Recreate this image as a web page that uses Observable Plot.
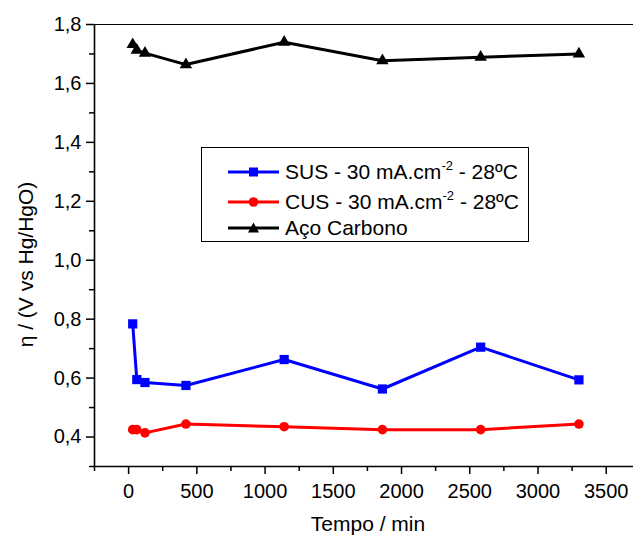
<!DOCTYPE html>
<html>
<head>
<meta charset="utf-8">
<script src="https://cdn.jsdelivr.net/npm/d3@7"></script>
<script src="https://cdn.jsdelivr.net/npm/@observablehq/plot@0.6"></script>
<style>
  html, body { margin: 0; padding: 0; background: white; }
  #wrap { position: relative; width: 633px; height: 535px; overflow: hidden; font-family: "Liberation Sans", Arial, sans-serif; }
  #legend { position: absolute; left: 201px; top: 147px; width: 328px; height: 95px; border: 1.3px solid black; background: white; box-sizing: border-box; }
  .row { position: absolute; left: 26px; height: 24px; display: flex; align-items: center; font-size: 21px; color: black; white-space: nowrap; }
  .row svg { margin-right: 6px; }
  .sup { font-size: 13px; position: relative; top: -9px; }
</style>
</head>
<body>
<div id="wrap"></div>
<script>
// Data
const tempo = [30, 60, 120, 420, 1140, 1860, 2580, 3300];
const sus   = [0.784, 0.595, 0.585, 0.575, 0.663, 0.563, 0.705, 0.594];
const cus   = [0.425, 0.425, 0.414, 0.444, 0.435, 0.425, 0.425, 0.444];
const aco   = [1.732, 1.713, 1.703, 1.664, 1.740, 1.677, 1.689, 1.700];

const seriesNames = ["SUS - 30 mA.cm", "CUS - 30 mA.cm", "Aço Carbono"];
const seriesColors = ["#0000ff", "#ff0000", "#000000"];
const seriesSymbols = ["square", "circle", "triangle"];

const xMajor = [0, 500, 1000, 1500, 2000, 2500, 3000, 3500];
const xMinor = [-250, 250, 750, 1250, 1750, 2250, 2750, 3250];
const yMajor = [0.4, 0.6, 0.8, 1.0, 1.2, 1.4, 1.6, 1.8];
const yMinor = [0.3, 0.5, 0.7, 0.9, 1.1, 1.3, 1.5, 1.7];

const xTitle = "Tempo / min";
const yTitle = "η / (V vs Hg/HgO)";

const fmtY = d => d.toFixed(1).replace(".", ",");
const fmtX = d => String(d);

const chart = Plot.plot({
  width: 633,
  height: 535,
  marginLeft: 94,
  marginRight: 0,
  marginTop: 24,
  marginBottom: 69,
  x: {domain: [-250, 3700]},
  y: {domain: [0.3, 1.8]},
  style: {fontFamily: "'Liberation Sans', Arial, sans-serif", background: "white", color: "black"},
  marks: [
    Plot.ruleY([1.8], {stroke: "black", strokeWidth: 1}),
    Plot.ruleX([-250], {stroke: "black", strokeWidth: 1.6}),
    Plot.ruleY([0.3], {stroke: "black", strokeWidth: 1.6}),
    Plot.axisX({ticks: xMinor, tickSize: 5, tickFormat: () => "", strokeWidth: 1.5, label: null}),
    Plot.axisX({ticks: xMajor, tickSize: 8, tickPadding: 9, fontSize: 20, tickFormat: fmtX, strokeWidth: 1.5, label: null}),
    Plot.axisY({ticks: yMinor, tickSize: 5, tickFormat: () => "", strokeWidth: 1.5, label: null}),
    Plot.axisY({ticks: yMajor, tickSize: 8, tickPadding: 5, fontSize: 20, tickFormat: fmtY, strokeWidth: 1.5, label: null}),
    Plot.line(tempo, {x: tempo, y: aco, stroke: seriesColors[2], strokeWidth: 3}),
    Plot.dot(tempo, {x: tempo, y: aco, fill: seriesColors[2], symbol: seriesSymbols[2], r: 4.6}),
    Plot.line(tempo, {x: tempo, y: sus, stroke: seriesColors[0], strokeWidth: 3}),
    Plot.dot(tempo, {x: tempo, y: sus, fill: seriesColors[0], symbol: seriesSymbols[0], r: 5.2}),
    Plot.line(tempo, {x: tempo, y: cus, stroke: seriesColors[1], strokeWidth: 3}),
    Plot.dot(tempo, {x: tempo, y: cus, fill: seriesColors[1], symbol: seriesSymbols[1], r: 4.8}),
    Plot.text([xTitle], {frameAnchor: "bottom", textAnchor: "middle", lineAnchor: "top", dy: 50, dx: 4, fontSize: 21}),
    Plot.text([yTitle], {frameAnchor: "left", textAnchor: "middle", lineAnchor: "middle", rotate: -90, dx: -68, dy: 19, fontSize: 21})
  ]
});

const wrap = document.getElementById("wrap");
wrap.appendChild(chart);

// Legend inside the plot area
const legend = document.createElement("div");
legend.id = "legend";
const rowCenters = [23.5, 54, 80];
const symbolPaths = {
  square: '<rect x="21" y="2.5" width="9" height="9"/>',
  circle: '<circle cx="25.5" cy="7" r="4.8"/>',
  triangle: '<path d="M25.5,1.5 L31,11.5 L20,11.5 Z"/>'
};
seriesNames.forEach((name, i) => {
  const row = document.createElement("div");
  row.className = "row";
  row.style.top = (rowCenters[i] - 12) + "px";
  const c = seriesColors[i];
  const sym = `<svg width="51" height="14" viewBox="0 0 51 14"><line x1="0" y1="7" x2="51" y2="7" stroke="${c}" stroke-width="3"/><g fill="${c}">${symbolPaths[seriesSymbols[i]]}</g></svg>`;
  const label = i < 2
    ? `<span>${name}<span class="sup">-2</span> - 28ºC</span>`
    : `<span>${name}</span>`;
  row.innerHTML = sym + label;
  legend.appendChild(row);
});
wrap.appendChild(legend);
</script>
</body>
</html>
